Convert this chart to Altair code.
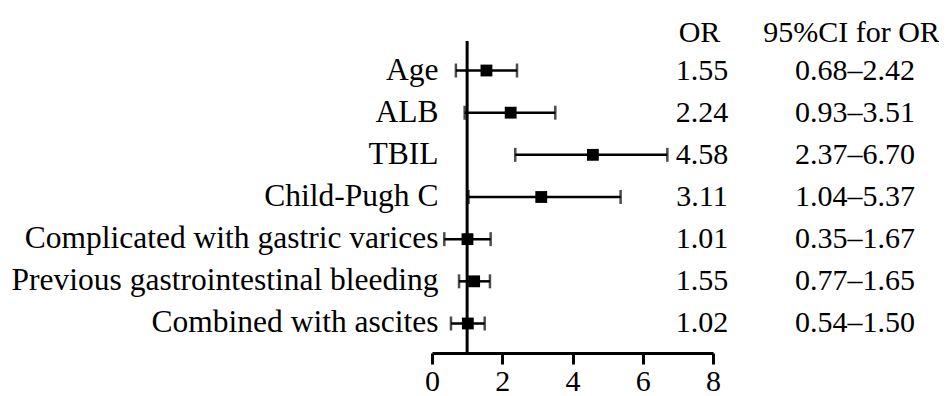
import altair as alt
import pandas as pd

labels = ["Age", "ALB", "TBIL", "Child-Pugh C", "Complicated with gastric varices",
          "Previous gastrointestinal bleeding", "Combined with ascites"]
or_point = [1.55, 2.24, 4.58, 3.11, 1.01, 1.2, 1.02]
ci_low = [0.68, 0.93, 2.37, 1.04, 0.35, 0.77, 0.54]
ci_high = [2.42, 3.51, 6.70, 5.37, 1.67, 1.65, 1.50]
or_text = ["1.55", "2.24", "4.58", "3.11", "1.01", "1.55", "1.02"]
ci_text = ["0.68–2.42", "0.93–3.51", "2.37–6.70", "1.04–5.37", "0.35–1.67", "0.77–1.65", "0.54–1.50"]
ref_value = [1]
headers = ["OR", "95%CI for OR"]

FONT = "Liberation Serif"
FS_LAB = 31.5
FS_NUM = 30

df = pd.DataFrame({"label": labels, "or": or_point, "lo": ci_low, "hi": ci_high,
                   "or_text": or_text, "ci_text": ci_text})

y_enc = alt.Y("label:N", sort=labels, title=None,
              scale=alt.Scale(paddingInner=0, paddingOuter=0.2),
              axis=alt.Axis(domain=False, ticks=False, labelFont=FONT, labelFontSize=FS_LAB,
                            labelColor="black", labelPadding=-6, labelLimit=600))
x_scale = alt.Scale(domain=[0, 8], nice=False)

base = alt.Chart(df)

ref = alt.Chart(pd.DataFrame({"v": ref_value})).mark_rule(color="black", strokeWidth=3).encode(
    x=alt.X("v:Q", scale=x_scale))

err = base.mark_rule(color="black", strokeWidth=2.5).encode(
    x=alt.X("lo:Q", scale=x_scale,
            axis=alt.Axis(values=[0, 2, 4, 6, 8], title=None, grid=False,
                          domainColor="black", domainWidth=3, tickColor="black",
                          tickWidth=3, tickSize=11, labelFont=FONT, labelFontSize=FS_NUM,
                          labelColor="black", labelPadding=2, labelFlush=False)),
    x2="hi:Q", y=y_enc)

cap_lo = base.mark_tick(color="black", thickness=2.5, size=14, orient="vertical").encode(
    x=alt.X("lo:Q", scale=x_scale), y=y_enc)
cap_hi = base.mark_tick(color="black", thickness=2.5, size=14, orient="vertical").encode(
    x=alt.X("hi:Q", scale=x_scale), y=y_enc)

pts = base.mark_square(color="black", opacity=1, size=140).encode(
    x=alt.X("or:Q", scale=x_scale), y=y_enc)

or_col = base.mark_text(font=FONT, fontSize=FS_NUM, color="black", align="center",
                        baseline="middle").encode(
    x=alt.value(270), y=y_enc, text="or_text:N")
ci_col = base.mark_text(font=FONT, fontSize=FS_NUM, color="black", align="center",
                        baseline="middle").encode(
    x=alt.value(423), y=y_enc, text="ci_text:N")

hdr_df = pd.DataFrame({"h": headers, "px": [267.5, 419.5]})
hdr = alt.Chart(hdr_df).mark_text(font=FONT, fontSize=FS_NUM, color="black", align="center",
                                  baseline="middle").encode(
    x=alt.X("px:Q", scale=None), y=alt.value(-8), text="h:N")

chart = alt.layer(err, ref, cap_lo, cap_hi, pts, or_col, ci_col, hdr).properties(
    width=281, height=312,
    autosize=alt.AutoSizeParams(type="none"),
    padding={"left": 424, "top": 33, "right": 226, "bottom": 43},
    background="white",
).configure_view(stroke=None)

chart.save("out.html", embed_options={"renderer": "svg", "actions": False})
